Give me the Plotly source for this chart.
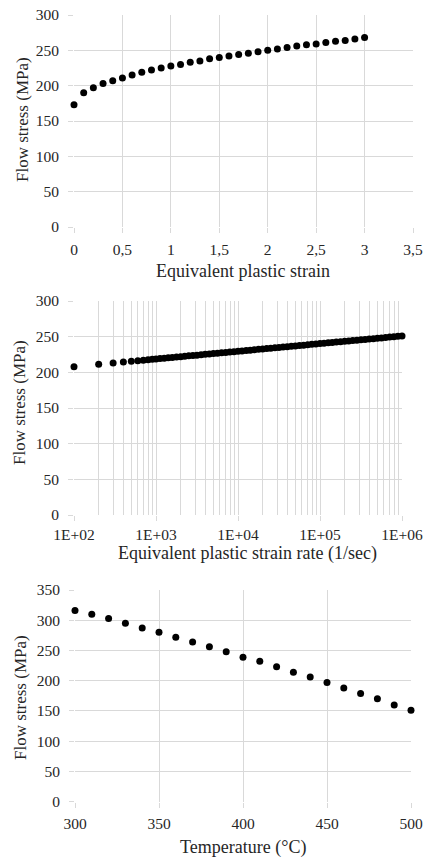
import plotly.graph_objects as go

# ---- Data ----
strain = [0.0, 0.1, 0.2, 0.3, 0.4, 0.5, 0.6, 0.7, 0.8, 0.9, 1.0, 1.1, 1.2, 1.3, 1.4, 1.5,
          1.6, 1.7, 1.8, 1.9, 2.0, 2.1, 2.2, 2.3, 2.4, 2.5, 2.6, 2.7, 2.8, 2.9, 3.0]
stress_strain = [173, 190, 197, 203, 207, 211, 215, 219, 222, 225, 228, 230, 233, 235, 238, 240,
                 242, 244, 246, 248, 250, 252, 254, 256, 258, 259, 261, 263, 264, 266, 268]

rate = [100, 200, 300, 400, 500, 600, 700, 800, 900, 1000,
        1120, 1260, 1410, 1580, 1780, 2000, 2240, 2510, 2820, 3160, 3550, 3980, 4470, 5010,
        5620, 6310, 7080, 7940, 8910,
        10000, 11200, 12600, 14100, 15800, 17800, 20000, 22400, 25100, 28200, 31600, 35500,
        39800, 44700, 50100, 56200, 63100, 70800, 79400, 89100,
        100000, 112000, 126000, 141000, 158000, 178000, 200000, 224000, 251000, 282000, 316000,
        355000, 398000, 447000, 501000, 562000, 631000, 708000, 794000, 891000, 1000000]
stress_rate = [208.0, 211.2, 213.1, 214.5, 215.5, 216.4, 217.1, 217.7, 218.3, 218.8,
               219.3, 219.8, 220.4, 220.9, 221.4, 222.0, 222.5, 223.1, 223.6, 224.1, 224.7, 225.2,
               225.7, 226.3, 226.8, 227.4, 227.9, 228.4, 229.0,
               229.5, 230.0, 230.6, 231.1, 231.7, 232.2, 232.7, 233.3, 233.8, 234.3, 234.9, 235.4,
               236.0, 236.5, 237.0, 237.6, 238.1, 238.6, 239.2, 239.7,
               240.3, 240.8, 241.3, 241.9, 242.4, 242.9, 243.5, 244.0, 244.6, 245.1, 245.6, 246.2,
               246.7, 247.2, 247.8, 248.3, 248.9, 249.4, 249.9, 250.5, 251.0]

temperature = [300, 310, 320, 330, 340, 350, 360, 370, 380, 390, 400,
               410, 420, 430, 440, 450, 460, 470, 480, 490, 500]
stress_temp = [316, 310, 303, 295, 287, 280, 272, 264, 256, 248, 239,
               232, 223, 214, 206, 197, 188, 179, 170, 160, 151]

rate_ticks = [1e2, 1e3, 1e4, 1e5, 1e6]
rate_ticktext = ["1E+02", "1E+03", "1E+04", "1E+05", "1E+06"]

# ---- Style ----
W, H = 425, 859
FONT = "Times New Roman, Liberation Serif, serif"
TXT = "#262626"
GRID = "#d9d9d9"
MS = 7

fig = go.Figure()
fig.add_trace(go.Scatter(x=strain, y=stress_strain, mode="markers",
                         marker=dict(color="black", size=MS), cliponaxis=False,
                         xaxis="x", yaxis="y", showlegend=False))
fig.add_trace(go.Scatter(x=rate, y=stress_rate, mode="markers",
                         marker=dict(color="black", size=MS), cliponaxis=False,
                         xaxis="x2", yaxis="y2", showlegend=False))
fig.add_trace(go.Scatter(x=temperature, y=stress_temp, mode="markers",
                         marker=dict(color="black", size=MS), cliponaxis=False,
                         xaxis="x3", yaxis="y3", showlegend=False))


def px_x(p):
    return p / W


def px_y(p):
    return 1 - p / H


tickfont = dict(family=FONT, size=15.5, color=TXT)
common = dict(showgrid=True, gridcolor=GRID, gridwidth=1, zeroline=False, showline=False,
              ticks="outside", ticklen=5, tickcolor=GRID, tickwidth=1, automargin=False,
              tickfont=tickfont, fixedrange=True)

minor_vals = [k * 10 ** d for d in range(2, 6) for k in range(2, 10)]

fig.update_layout(
    template="none",
    width=W, height=H,
    margin=dict(l=0, r=0, t=0, b=0, pad=0),
    paper_bgcolor="white", plot_bgcolor="white",
    separators=", ",
    font=dict(family=FONT, color=TXT),
    xaxis=dict(domain=[px_x(74), px_x(413)], anchor="y", range=[0, 3.5], dtick=0.5,
               tick0=0, ticklabelstandoff=3, **common),
    yaxis=dict(domain=[px_y(227), px_y(15)], anchor="x", range=[0, 300], dtick=50,
               ticklabelstandoff=6, **common),
    xaxis2=dict(domain=[px_x(74), px_x(402)], anchor="y2", type="log", range=[2, 6],
                tickmode="array", tickvals=rate_ticks, ticktext=rate_ticktext,
                ticklabelstandoff=0,
                minor=dict(tickmode="array", tickvals=minor_vals, showgrid=True,
                           gridcolor=GRID, gridwidth=1, ticks=""),
                **common),
    yaxis2=dict(domain=[px_y(515), px_y(301)], anchor="x2", range=[0, 300], dtick=50,
                ticklabelstandoff=6, **common),
    xaxis3=dict(domain=[px_x(75), px_x(411)], anchor="y3", range=[300, 500], dtick=50,
                tick0=300, ticklabelstandoff=3, **common),
    yaxis3=dict(domain=[px_y(801.7), px_y(590)], anchor="x3", range=[0, 350], dtick=50,
                ticklabelstandoff=6, **common),
)

xtitle_font = dict(family=FONT, size=18, color=TXT)
ytitle_font = dict(family=FONT, size=17, color=TXT)
annots = [
    ("Equivalent plastic strain", 243, 271, 0),
    ("Flow stress (MPa)", 22, 120, -90),
    ("Equivalent plastic strain rate (1/sec)", 247, 553, 0),
    ("Flow stress (MPa)", 19, 403, -90),
    ("Temperature (°C)", 243, 847, 0),
    ("Flow stress (MPa)", 20, 698, -90),
]
for text, x, y, ang in annots:
    fig.add_annotation(text=text, x=px_x(x), y=px_y(y), xref="paper", yref="paper",
                       showarrow=False, textangle=ang,
                       font=xtitle_font if ang == 0 else ytitle_font,
                       xanchor="center", yanchor="middle")

fig.write_html("out.html", config={"displayModeBar": False},
               post_script="document.body.style.margin='0';document.body.style.padding='0';")
